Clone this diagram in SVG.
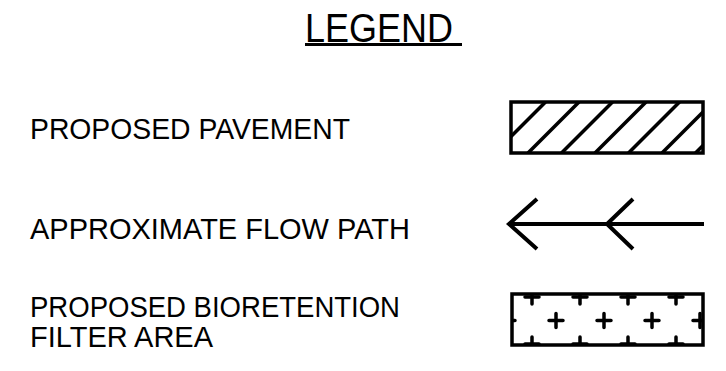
<svg xmlns="http://www.w3.org/2000/svg" width="726" height="371" viewBox="0 0 726 371">
  <style>
    .t { font-family: "Liberation Sans", Arial, sans-serif; fill: #000; }
    .lbl { font-size: 29px; }
    .box { fill: none; stroke: #000; stroke-width: 3.5; }
    .hatch { stroke: #000; stroke-width: 3.5; fill: none; }
    .cross { stroke: #000; stroke-width: 3.5; fill: none; stroke-linecap: round; }
    .arrow { stroke: #000; stroke-width: 4; fill: none; stroke-linecap: butt; stroke-linejoin: miter; }
  </style>
  <defs>
    <clipPath id="clipPave"><rect x="511" y="102" width="192" height="51"/></clipPath>
    <clipPath id="clipBio"><rect x="512" y="294" width="191" height="51"/></clipPath>
    <path id="cr" d="M -7 0 H 7 M 0 -7 V 7"/>
  </defs>
  <rect width="726" height="371" fill="#fff"/>

  <g id="title">
    <text class="t" x="305" y="42" font-size="40" textLength="148" lengthAdjust="spacingAndGlyphs">LEGEND</text>
    <line x1="305" y1="44.5" x2="462" y2="44.5" stroke="#000" stroke-width="3"/>
  </g>

  <g id="pavement">
    <text class="t lbl" x="30" y="139" textLength="320" lengthAdjust="spacingAndGlyphs">PROPOSED PAVEMENT</text>
    <g clip-path="url(#clipPave)" class="hatch">
      <line x1="494.5" y1="153" x2="545.5" y2="102"/>
      <line x1="528" y1="153" x2="579" y2="102"/>
      <line x1="561.5" y1="153" x2="612.5" y2="102"/>
      <line x1="595" y1="153" x2="646" y2="102"/>
      <line x1="628.5" y1="153" x2="679.5" y2="102"/>
      <line x1="662" y1="153" x2="713" y2="102"/>
      <line x1="695.5" y1="153" x2="746.5" y2="102"/>
    </g>
    <rect class="box" x="511" y="102" width="192" height="51"/>
  </g>

  <g id="flowpath">
    <text class="t lbl" x="30" y="239" textLength="380" lengthAdjust="spacingAndGlyphs">APPROXIMATE FLOW PATH</text>
    <g class="arrow">
      <line x1="509" y1="224" x2="704" y2="224"/>
      <polyline points="537,199 509,224 537,249"/>
      <polyline points="633,199 607,224 633,249"/>
    </g>
  </g>

  <g id="bioretention">
    <text class="t lbl" x="30" y="317" textLength="370" lengthAdjust="spacingAndGlyphs">PROPOSED BIORETENTION</text>
    <text class="t lbl" x="30" y="347" textLength="183" lengthAdjust="spacingAndGlyphs">FILTER AREA</text>
    <g clip-path="url(#clipBio)" class="cross">
      <use href="#cr" x="532" y="297"/>
      <use href="#cr" x="580" y="297"/>
      <use href="#cr" x="628" y="297"/>
      <use href="#cr" x="676" y="297"/>
      <use href="#cr" x="508" y="320.5"/>
      <use href="#cr" x="556" y="320.5"/>
      <use href="#cr" x="604" y="320.5"/>
      <use href="#cr" x="652" y="320.5"/>
      <use href="#cr" x="700" y="320.5"/>
      <use href="#cr" x="532" y="344"/>
      <use href="#cr" x="580" y="344"/>
      <use href="#cr" x="628" y="344"/>
      <use href="#cr" x="676" y="344"/>
    </g>
    <rect class="box" x="512" y="294" width="191" height="51"/>
  </g>
</svg>
